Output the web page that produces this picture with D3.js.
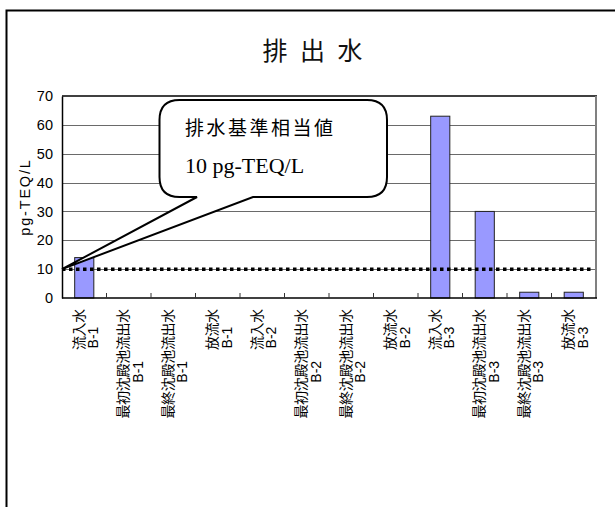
<!DOCTYPE html>
<html>
<head>
<meta charset="utf-8">
<script src="https://cdn.jsdelivr.net/npm/d3@7"></script>
<style>
  html, body { margin: 0; padding: 0; background: #fff; }
  svg { display: block; }
</style>
</head>
<body>
<svg id="chart" width="615" height="507"></svg>
<script>
// Sampling points: treatment stage (first label line) and site (second label line)
const stages = ["流入水", "最初沈殿池流出水", "最終沈殿池流出水", "放流水",
                "流入水", "最初沈殿池流出水", "最終沈殿池流出水", "放流水",
                "流入水", "最初沈殿池流出水", "最終沈殿池流出水", "放流水"];
const sites = ["B-1", "B-1", "B-1", "B-1",
               "B-2", "B-2", "B-2", "B-2",
               "B-3", "B-3", "B-3", "B-3"];
// Dioxin concentration, pg-TEQ/L
const values = [14, 0, 0, 0, 0, 0, 0, 0, 63, 30, 2, 2];
const yTicks = [0, 10, 20, 30, 40, 50, 60, 70];
const standardValue = 10;
const titleChars = ["排", "出", "水"];
const yTitle = "pg-TEQ/L";
const calloutLines = ["排水基準相当値", "10 pg-TEQ/L"];

(function draw() {
  const svg = d3.select("#chart");
  const plotL = 62, plotR = 596, plotT = 96, plotB = 298;
  const keys = stages.map((s, i) => i);

  const x = d3.scaleBand().domain(keys).range([plotL, plotR])
    .paddingInner(0.57).paddingOuter(0.285);
  const y = d3.scaleLinear().domain([0, 70]).range([plotB, plotT]);
  const step = x.step();

  // outer frame
  svg.append("rect").attr("x", 6.5).attr("y", 10.5).attr("width", 700).attr("height", 600)
    .attr("fill", "#fff").attr("stroke", "#000").attr("stroke-width", 2);

  // title
  svg.append("g").selectAll("text").data(titleChars).join("text")
    .attr("x", (d, i) => 275 + i * 37.5).attr("y", 60)
    .attr("text-anchor", "middle")
    .attr("font-family", "'Noto Sans CJK JP', sans-serif")
    .attr("font-size", 25)
    .attr("fill", "#111")
    .text(d => d);

  // gridlines
  svg.append("g").selectAll("line").data(yTicks.filter(t => t > 0 && t < 70)).join("line")
    .attr("x1", plotL).attr("x2", plotR)
    .attr("y1", d => Math.round(y(d)) + 0.5).attr("y2", d => Math.round(y(d)) + 0.5)
    .attr("stroke", "#6a6a6a").attr("stroke-width", 1);

  // plot area border: top black, right grey
  svg.append("line").attr("x1", plotL).attr("x2", plotR + 1)
    .attr("y1", y(70)).attr("y2", y(70)).attr("stroke", "#000").attr("stroke-width", 1.3);
  svg.append("line").attr("x1", plotR).attr("x2", plotR)
    .attr("y1", y(70)).attr("y2", plotB).attr("stroke", "#808080").attr("stroke-width", 2);

  // bars
  svg.append("g").selectAll("rect").data(values.map((v, i) => ({ v, i })).filter(d => d.v > 0))
    .join("rect")
    .attr("x", d => x(d.i))
    .attr("y", d => y(d.v))
    .attr("width", x.bandwidth())
    .attr("height", d => plotB - y(d.v))
    .attr("fill", "#9999ff")
    .attr("stroke", "#222").attr("stroke-width", 1);

  // standard value reference line
  svg.append("line")
    .attr("x1", plotL).attr("x2", 591)
    .attr("y1", y(standardValue)).attr("y2", y(standardValue))
    .attr("stroke", "#000").attr("stroke-width", 3.5)
    .attr("stroke-dasharray", "3.5 3.5");

  // y axis
  const yAxis = svg.append("g").attr("transform", `translate(${plotL},0)`)
    .call(d3.axisLeft(y).tickValues(yTicks).tickSize(0).tickPadding(9));
  yAxis.select(".domain").attr("stroke", "#000").attr("stroke-width", 1.5);
  yAxis.selectAll("text")
    .attr("font-family", "'Liberation Sans', Arial, sans-serif")
    .attr("font-size", 14.5).attr("fill", "#000");

  // x axis with inward ticks at category boundaries
  svg.append("line").attr("x1", plotL).attr("x2", plotR + 1)
    .attr("y1", plotB).attr("y2", plotB).attr("stroke", "#000").attr("stroke-width", 1.5);
  svg.append("g").selectAll("line").data(d3.range(1, keys.length)).join("line")
    .attr("x1", d => plotL + d * step).attr("x2", d => plotL + d * step)
    .attr("y1", plotB).attr("y2", plotB - 5)
    .attr("stroke", "#333").attr("stroke-width", 1);

  // rotated category labels
  const labelFont = "'Noto Sans CJK JP', sans-serif";
  const lab = svg.append("g").selectAll("g").data(keys).join("g")
    .attr("transform", d => `translate(${x(d) + x.bandwidth() / 2},309) rotate(-90)`);
  lab.append("text")
    .attr("class", "l1")
    .attr("x", 0).attr("y", -0.5)
    .attr("text-anchor", "end")
    .attr("font-family", labelFont).attr("font-size", 14).attr("letter-spacing", -0.3)
    .attr("fill", "#000")
    .text(d => stages[d]);
  lab.each(function(d) {
    const g = d3.select(this);
    const L = g.select(".l1").node().getComputedTextLength();
    g.append("text")
      .attr("x", -L / 2 - 8).attr("y", 14)
      .attr("text-anchor", "middle")
      .attr("font-family", "'Liberation Sans', Arial, sans-serif")
      .attr("font-size", 14).attr("fill", "#000")
      .text(sites[d]);
  });

  // y axis title
  svg.append("text")
    .attr("transform", "translate(30,197) rotate(-90)")
    .attr("text-anchor", "middle")
    .attr("font-family", "'Liberation Sans', Arial, sans-serif")
    .attr("font-size", 14.5).attr("letter-spacing", 1.8)
    .attr("fill", "#000")
    .text(yTitle);

  // callout balloon pointing at the standard value on the axis
  const bx0 = 159.5, bx1 = 387, by0 = 100, by1 = 197, r = 20;
  const tipX = plotL, tipY = y(standardValue);
  const tailA = 197, tailB = 253;
  const p = d3.path();
  p.moveTo(bx0 + r, by0);
  p.lineTo(bx1 - r, by0);
  p.quadraticCurveTo(bx1, by0, bx1, by0 + r);
  p.lineTo(bx1, by1 - r);
  p.quadraticCurveTo(bx1, by1, bx1 - r, by1);
  p.lineTo(tailB, by1);
  p.lineTo(tipX, tipY);
  p.lineTo(tailA, by1);
  p.lineTo(bx0 + r, by1);
  p.quadraticCurveTo(bx0, by1, bx0, by1 - r);
  p.lineTo(bx0, by0 + r);
  p.quadraticCurveTo(bx0, by0, bx0 + r, by0);
  p.closePath();
  svg.append("path").attr("d", p.toString())
    .attr("fill", "#fff").attr("stroke", "#000").attr("stroke-width", 2)
    .attr("stroke-linejoin", "miter");

  svg.append("text")
    .attr("x", 185).attr("y", 135)
    .attr("font-family", "'Noto Sans CJK JP', sans-serif")
    .attr("font-size", 19).attr("letter-spacing", 2.5)
    .attr("fill", "#000")
    .text(calloutLines[0]);
  svg.append("text")
    .attr("x", 185).attr("y", 173)
    .attr("font-family", "'Liberation Serif', 'Times New Roman', serif")
    .attr("font-size", 22)
    .attr("fill", "#000")
    .text(calloutLines[1]);
})();
</script>
</body>
</html>
